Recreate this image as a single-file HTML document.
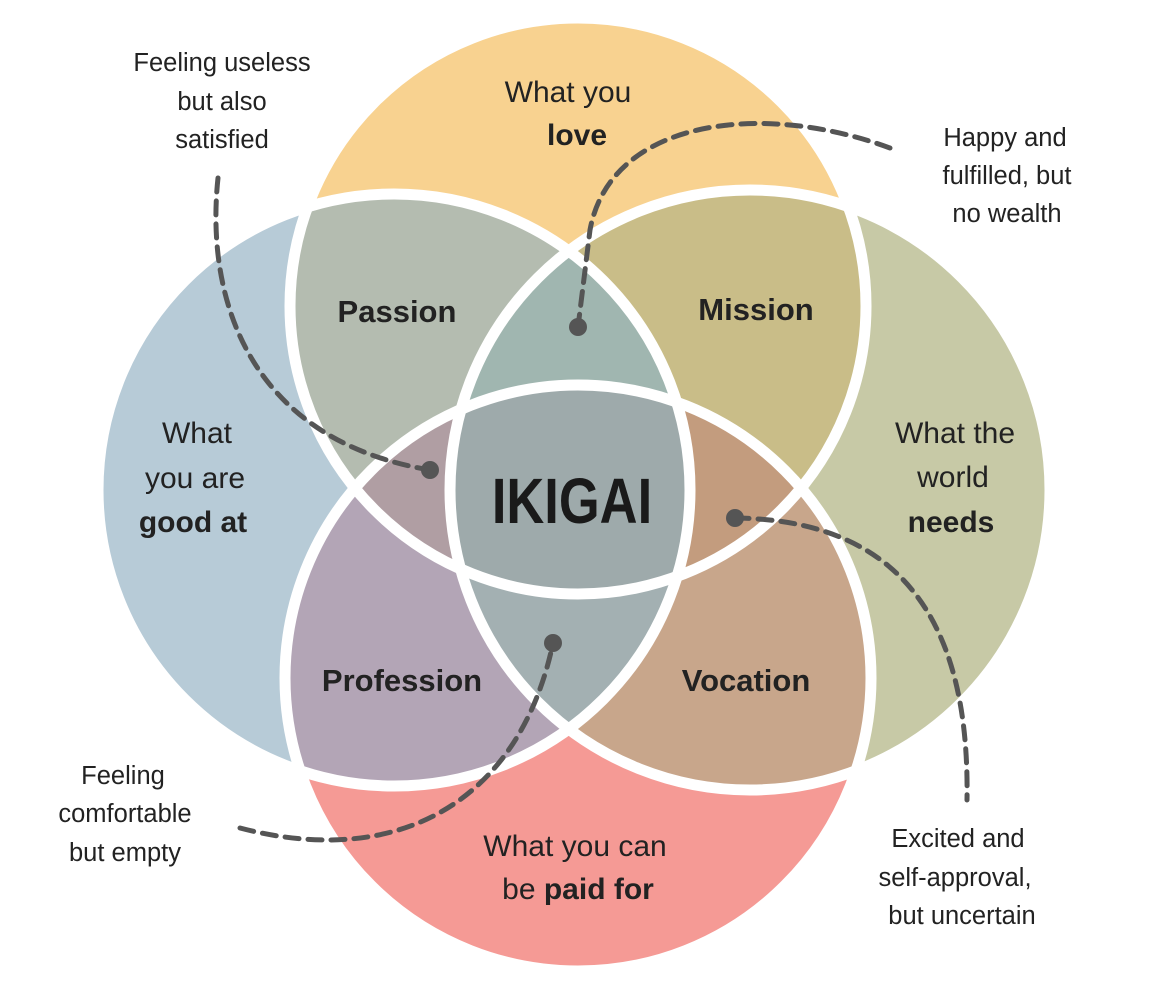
<!DOCTYPE html>
<html><head><meta charset="utf-8"><style>
html,body{margin:0;padding:0;background:#fff;}
svg{display:block;}
text{font-family:"Liberation Sans",sans-serif;fill:#222;text-anchor:middle;}
.m{font-size:30px;}
.b{font-weight:bold;}
.s{font-size:25.5px;}
.r{font-size:31px;font-weight:bold;}
</style></head><body>
<svg width="1164" height="997" viewBox="0 0 1164 997" xmlns="http://www.w3.org/2000/svg">
<defs>
<clipPath id="cT"><circle cx="578" cy="306" r="288"/></clipPath>
<clipPath id="cL"><circle cx="394" cy="490" r="296"/></clipPath>
<clipPath id="cR"><circle cx="750" cy="490" r="300"/></clipPath>
<clipPath id="cB"><circle cx="578" cy="678" r="293"/></clipPath>
</defs>
<circle cx="578" cy="306" r="288" fill="#f8d290"/>
<circle cx="394" cy="490" r="296" fill="#b7cbd7"/>
<circle cx="750" cy="490" r="300" fill="#c7c9a6"/>
<circle cx="578" cy="678" r="293" fill="#f59a95"/>
<g clip-path="url(#cT)"><circle cx="394" cy="490" r="296" fill="#b4bcb0"/><circle cx="750" cy="490" r="300" fill="#c9bd88"/></g>
<g clip-path="url(#cB)"><circle cx="394" cy="490" r="296" fill="#b3a5b6"/><circle cx="750" cy="490" r="300" fill="#c8a68b"/></g>
<g clip-path="url(#cT)"><g clip-path="url(#cL)"><circle cx="750" cy="490" r="300" fill="#a0b6b0"/><circle cx="578" cy="678" r="293" fill="#b09ea3"/></g></g>
<g clip-path="url(#cT)"><g clip-path="url(#cR)"><circle cx="578" cy="678" r="293" fill="#c39c7e"/></g></g>
<g clip-path="url(#cL)"><g clip-path="url(#cR)"><circle cx="578" cy="678" r="293" fill="#a3b0b2"/></g></g>
<g clip-path="url(#cT)"><g clip-path="url(#cL)"><g clip-path="url(#cR)"><circle cx="578" cy="678" r="293" fill="#9eaaab"/></g></g></g>
<g fill="none" stroke="#fff" stroke-width="11">
<circle cx="578" cy="306" r="288"/>
<circle cx="394" cy="490" r="296"/>
<circle cx="750" cy="490" r="300"/>
<circle cx="578" cy="678" r="293"/>
</g>
<g fill="none" stroke="#555" stroke-width="5" stroke-dasharray="14 9" stroke-linecap="round">
<path d="M218,178 C205,300 250,440 430,470"/>
<path d="M890,148 C760,100 610,120 590,230 L578,327"/>
<path d="M735,518 C900,520 970,620 967,800"/>
<path d="M240,828 C400,870 520,800 553,643"/>
</g>
<g fill="#555">
<circle cx="430" cy="470" r="9"/>
<circle cx="578" cy="327" r="9"/>
<circle cx="735" cy="518" r="9"/>
<circle cx="553" cy="643" r="9"/>
</g>
<text class="m" x="568" y="102">What you</text>
<text class="m b" x="577" y="145">love</text>
<text class="r" x="397" y="322">Passion</text>
<text class="r" x="756" y="320">Mission</text>
<text class="m" x="197" y="443">What</text>
<text class="m" x="195" y="488">you are</text>
<text class="m b" x="193" y="532">good at</text>
<text class="m" x="955" y="443">What the</text>
<text class="m" x="953" y="487">world</text>
<text class="m b" x="951" y="532">needs</text>
<text class="r" x="402" y="691">Profession</text>
<text class="r" x="746" y="691">Vocation</text>
<text class="m" x="575" y="856">What you can</text>
<text class="m" x="578" y="899"><tspan>be </tspan><tspan class="b">paid for</tspan></text>
<text x="572" y="523" style="font-family:'Liberation Sans Narrow','Liberation Sans',sans-serif;font-weight:bold;font-size:64px;fill:#1a1a1a" transform="translate(572 0) scale(0.82 1) translate(-572 0)">IKIGAI</text>
<text class="s" x="222" y="71">Feeling useless</text>
<text class="s" x="222" y="110">but also</text>
<text class="s" x="222" y="148">satisfied</text>
<text class="s" x="1005" y="146">Happy and</text>
<text class="s" x="1007" y="184">fulfilled, but</text>
<text class="s" x="1007" y="222">no wealth</text>
<text class="s" x="123" y="784">Feeling</text>
<text class="s" x="125" y="822">comfortable</text>
<text class="s" x="125" y="861">but empty</text>
<text class="s" x="958" y="847">Excited and</text>
<text class="s" x="955" y="886">self-approval,</text>
<text class="s" x="962" y="924">but uncertain</text>
</svg>
</body></html>
